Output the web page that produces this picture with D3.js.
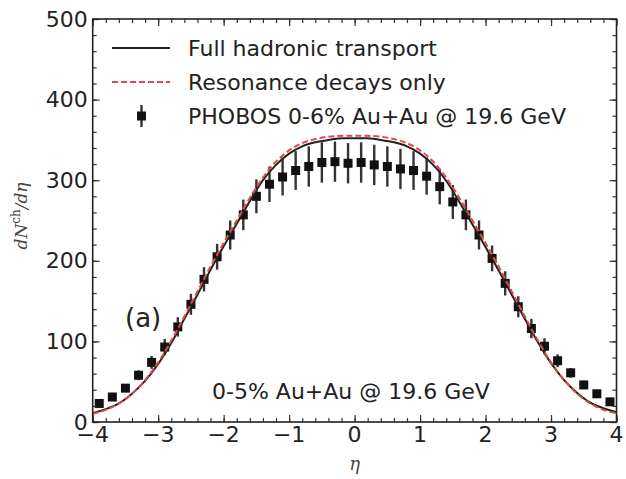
<!DOCTYPE html>
<html>
<head>
<meta charset="utf-8">
<script src="https://cdn.jsdelivr.net/npm/d3@7"></script>
<style>
  body { margin: 0; background: #fff; }
  svg text { font-family: "DejaVu Sans", sans-serif; fill: #222; }
</style>
</head>
<body>
<div id="graph"></div>
<script>
// PHOBOS points
var etaData = [-3.9, -3.7, -3.5, -3.3, -3.1, -2.9, -2.7, -2.5, -2.3, -2.1, -1.9, -1.7, -1.5, -1.3, -1.1, -0.9, -0.7, -0.5, -0.3, -0.1,
               0.1, 0.3, 0.5, 0.7, 0.9, 1.1, 1.3, 1.5, 1.7, 1.9, 2.1, 2.3, 2.5, 2.7, 2.9, 3.1, 3.3, 3.5, 3.7, 3.9];
var phobos = [23, 31, 42, 58, 74, 93, 118, 146, 177, 205, 232, 257, 280, 295, 304, 312, 317, 322, 323, 321,
              322, 319, 317, 314, 312, 305, 292, 273, 257, 232, 203, 172, 143, 116, 94, 76, 61, 46, 35, 25];
var phobosErr = [3, 4, 5, 6, 8, 10, 12, 13, 15, 16, 18, 19, 21, 22, 23, 24, 25, 25, 25, 25,
                 25, 25, 25, 25, 24, 23, 22, 21, 19, 18, 16, 15, 13, 12, 10, 8, 6, 5, 4, 3];

// model curves
var etaModel = [-4, -3.8, -3.6, -3.4, -3.2, -3, -2.8, -2.6, -2.4, -2.2, -2, -1.8, -1.6, -1.4, -1.2, -1, -0.8, -0.6, -0.4, -0.2, 0,
                0.2, 0.4, 0.6, 0.8, 1, 1.2, 1.4, 1.6, 1.8, 2, 2.2, 2.4, 2.6, 2.8, 3, 3.2, 3.4, 3.6, 3.8, 4];
var fullTransport = [11, 16, 23, 35, 51, 72, 98, 128, 158, 189, 218, 246, 274, 300, 319, 333, 342, 347, 350, 352, 352,
                     352, 350, 347, 342, 333, 319, 299, 273, 245, 217, 188, 158, 128, 99, 73, 52, 36, 24, 17, 12];
var resonanceOnly = [10, 15, 23, 35, 52, 74, 101, 131, 162, 193, 222, 250, 278, 303, 323, 337, 346, 351, 354, 355, 355,
                     355, 354, 351, 346, 337, 323, 303, 278, 250, 222, 193, 162, 131, 101, 74, 52, 35, 23, 15, 11];

var xTicks = [-4, -3, -2, -1, 0, 1, 2, 3, 4];
var yTicks = [0, 100, 200, 300, 400, 500];

var W = 626, H = 479;
var margin = {left: 92.7, top: 19, right: 9.5, bottom: 57};
var w = W - margin.left - margin.right;
var h = H - margin.top - margin.bottom;

var svg = d3.select("#graph").append("svg")
    .attr("width", W).attr("height", H);
var g = svg.append("g").attr("transform", "translate(" + margin.left + "," + margin.top + ")");

var x = d3.scaleLinear().domain([-4, 4]).range([0, w]);
var y = d3.scaleLinear().domain([0, 500]).range([h, 0]);

// points + error bars
var pts = etaData.map(function(e, i) { return {eta: e, v: phobos[i], err: phobosErr[i]}; });

g.selectAll(".err").data(pts).enter().append("line")
    .attr("x1", function(d) { return x(d.eta); })
    .attr("x2", function(d) { return x(d.eta); })
    .attr("y1", function(d) { return y(d.v - d.err); })
    .attr("y2", function(d) { return y(d.v + d.err); })
    .attr("stroke", "#333").attr("stroke-width", 2.4);

var ms = 9;
g.selectAll(".pt").data(pts).enter().append("rect")
    .attr("x", function(d) { return x(d.eta) - ms / 2; })
    .attr("y", function(d) { return y(d.v) - ms / 2; })
    .attr("width", ms).attr("height", ms)
    .attr("fill", "#111");

// curves
var line = d3.line()
    .x(function(d) { return x(d[0]); })
    .y(function(d) { return y(d[1]); })
    .curve(d3.curveCatmullRom);

g.append("path")
    .datum(etaModel.map(function(e, i) { return [e, fullTransport[i]]; }))
    .attr("d", line)
    .attr("fill", "none").attr("stroke", "#222").attr("stroke-width", 2);

g.append("path")
    .datum(etaModel.map(function(e, i) { return [e, resonanceOnly[i]]; }))
    .attr("d", line)
    .attr("fill", "none").attr("stroke", "#e5474b").attr("stroke-width", 2)
    .attr("stroke-dasharray", "6,3");

// axes, ticks inside on all sides
var xMinor = d3.range(-4, 4.001, 0.2);
var yMinor = d3.range(0, 500.1, 20);

function tickAxis(axisFn, scale, values, len) {
    return axisFn(scale).tickValues(values).tickSize(len).tickFormat("");
}
var majorLen = -7, minorLen = -4;

g.append("g").attr("transform", "translate(0," + h + ")").call(tickAxis(d3.axisBottom, x, xMinor, minorLen));
g.append("g").attr("transform", "translate(0," + h + ")").call(tickAxis(d3.axisBottom, x, xTicks, majorLen));
g.append("g").call(tickAxis(d3.axisTop, x, xMinor, minorLen));
g.append("g").call(tickAxis(d3.axisTop, x, xTicks, majorLen));
g.append("g").call(tickAxis(d3.axisLeft, y, yMinor, minorLen));
g.append("g").call(tickAxis(d3.axisLeft, y, yTicks, majorLen));
g.append("g").attr("transform", "translate(" + w + ",0)").call(tickAxis(d3.axisRight, y, yMinor, minorLen));
g.append("g").attr("transform", "translate(" + w + ",0)").call(tickAxis(d3.axisRight, y, yTicks, majorLen));
g.selectAll(".domain").remove();
g.selectAll(".tick line").attr("stroke", "#333").attr("stroke-width", 1.2);

g.append("rect").attr("width", w).attr("height", h)
    .attr("fill", "none").attr("stroke", "#222").attr("stroke-width", 1.6);

// tick labels
g.selectAll(".xlab").data(xTicks).enter().append("text")
    .attr("x", function(d) { return x(d); })
    .attr("y", h + 20)
    .attr("text-anchor", "middle")
    .style("font-size", "22px")
    .text(function(d) { return d < 0 ? "\u2212" + Math.abs(d) : d; });

g.selectAll(".ylab").data(yTicks).enter().append("text")
    .attr("x", -5)
    .attr("y", function(d) { return y(d) + 7.5; })
    .attr("text-anchor", "end")
    .style("font-size", "22px")
    .text(function(d) { return d; });

// axis titles
var yt = svg.append("text")
    .attr("transform", "translate(27,216) rotate(-90)")
    .attr("text-anchor", "middle")
    .style("font-family", "'DejaVu Serif', serif")
    .style("font-size", "17px")
    .style("fill", "#444");
yt.append("tspan").style("font-style", "italic").text("dN");
yt.append("tspan").attr("dy", -7).style("font-size", "12px").text("ch");
yt.append("tspan").attr("dy", 7).style("font-style", "italic").text("/d\u03b7");

svg.append("text")
    .attr("x", margin.left + x(0)).attr("y", 470)
    .attr("text-anchor", "middle")
    .style("font-family", "'DejaVu Serif', serif")
    .style("font-style", "italic")
    .style("font-size", "18px")
    .style("fill", "#444")
    .text("\u03b7");

// legend
var leg = svg.append("g");
leg.append("line").attr("x1", 112).attr("x2", 170).attr("y1", 48).attr("y2", 48)
    .attr("stroke", "#222").attr("stroke-width", 2);
leg.append("line").attr("x1", 112).attr("x2", 170).attr("y1", 82).attr("y2", 82)
    .attr("stroke", "#e5474b").attr("stroke-width", 2).attr("stroke-dasharray", "6,3");
leg.append("line").attr("x1", 141.5).attr("x2", 141.5).attr("y1", 105).attr("y2", 127)
    .attr("stroke", "#333").attr("stroke-width", 2.4);
leg.append("rect").attr("x", 141.5 - ms / 2).attr("y", 116 - ms / 2).attr("width", ms).attr("height", ms)
    .attr("fill", "#111");

var legText = ["Full hadronic transport", "Resonance decays only", "PHOBOS 0-6% Au+Au @ 19.6 GeV"];
leg.selectAll(".lt").data(legText).enter().append("text")
    .attr("x", 188)
    .attr("y", function(d, i) { return 56 + i * 34; })
    .style("font-size", "22px")
    .text(function(d) { return d; });

// annotations
svg.append("text").attr("x", 125).attr("y", 327)
    .style("font-size", "26px").text("(a)");
svg.append("text").attr("x", 212).attr("y", 399)
    .style("font-size", "22px").text("0-5% Au+Au @ 19.6 GeV");
</script>
</body>
</html>
